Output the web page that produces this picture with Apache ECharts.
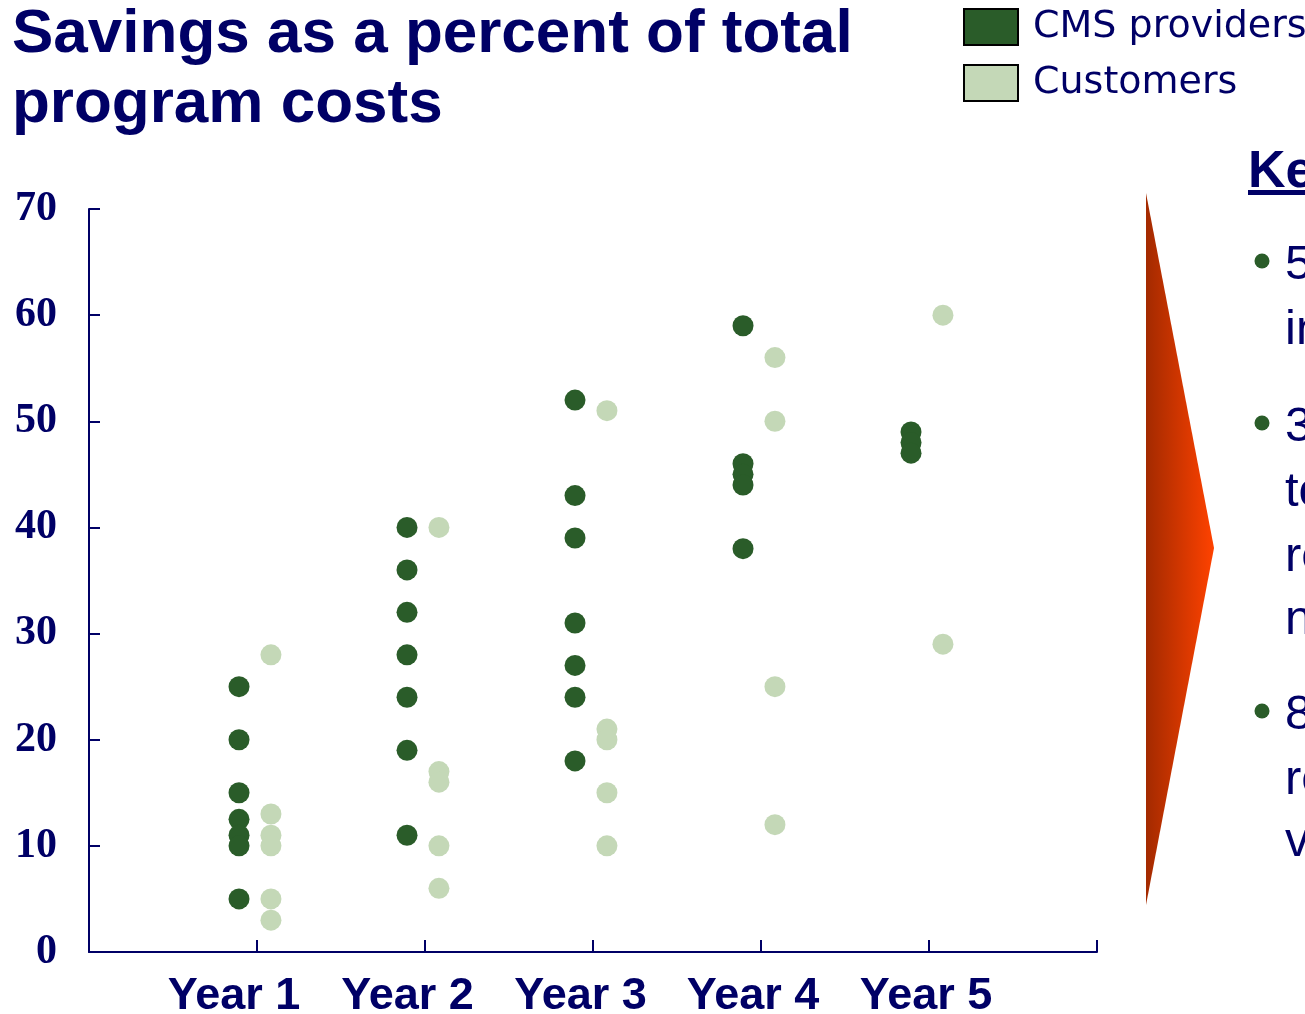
<!DOCTYPE html>
<html>
<head>
<meta charset="utf-8">
<script src="https://cdn.jsdelivr.net/npm/echarts@6/dist/echarts.min.js"></script>
<style>
html,body{margin:0;padding:0;background:#fff;}
#chart{width:1305px;height:1014px;}
</style>
</head>
<body>
<div id="chart"></div>
<script>
const years = ['Year 1', 'Year 2', 'Year 3', 'Year 4', 'Year 5'];
const cmsProviders = [
  [25, 20, 15, 12.5, 11, 10, 5],
  [40, 36, 32, 28, 24, 19, 11],
  [52, 43, 39, 31, 27, 24, 18],
  [59, 46, 45, 44, 38],
  [49, 48, 47]
];
const customers = [
  [28, 13, 11, 10, 5, 3],
  [40, 17, 16, 10, 6],
  [51, 21, 20, 15, 10],
  [56, 50, 25, 12],
  [60, 29]
];
const seriesNames = ['CMS providers', 'Customers'];
const titleText = 'Savings as a percent of total\nprogram costs';
const sideHeading = 'Ke';
const sideLines = [['5', 'in'], ['3', 'to', 're', 'n'], ['8', 're', 'v']];

const NAVY = '#000066';
const DARK = '#2A5C29';
const LIGHT = '#C4D8B7';

function buildPoints(groups, shift) {
  const out = [];
  groups.forEach((vals, i) => vals.forEach(v => out.push([i + 1 + shift, v])));
  return out;
}

const labelPad = [46, 35, 25, 16, 6];
const rich = {};
years.forEach((y, i) => {
  rich['y' + (i + 1)] = {
    fontFamily: 'Liberation Sans', fontWeight: 'bold', fontSize: 45, color: NAVY,
    padding: [0, labelPad[i], 0, 0]
  };
});

const graphics = [];
graphics.push({
  type: 'polygon',
  shape: { points: [[1146, 193], [1214, 548], [1146, 905]] },
  style: {
    fill: new echarts.graphic.LinearGradient(0, 0, 1, 0, [
      { offset: 0, color: '#A32A00' },
      { offset: 1, color: '#FF4200' }
    ])
  }
});
graphics.push({
  type: 'text', x: 1248, y: 187 - 14,
  style: { text: sideHeading, font: 'bold 52px "Liberation Sans"', fill: NAVY, verticalAlign: 'middle' }
});
graphics.push({ type: 'rect', shape: { x: 1248, y: 190, width: 60, height: 5 }, style: { fill: NAVY } });
const bulletBase = [[280, 345], [442, 507, 572, 635], [730, 795, 857]];
sideLines.forEach((lines, bi) => {
  graphics.push({
    type: 'circle', shape: { cx: 1262, cy: bulletBase[bi][0] - 19, r: 7.5 }, style: { fill: DARK }
  });
  lines.forEach((t, li) => {
    graphics.push({
      type: 'text', x: 1285, y: bulletBase[bi][li] - 15,
      style: { text: t, font: '49px "Liberation Sans"', fill: NAVY, verticalAlign: 'middle' }
    });
  });
});

const chart = echarts.init(document.getElementById('chart'), null, { renderer: 'canvas' });
chart.setOption({
  animation: false,
  backgroundColor: '#fff',
  title: {
    text: titleText,
    left: 12, top: 0, padding: 0,
    textStyle: { fontFamily: 'Liberation Sans', fontWeight: 'bold', fontSize: 62, lineHeight: 70, color: NAVY }
  },
  legend: {
    orient: 'vertical', left: 963, top: 8, itemGap: 18, padding: 0,
    itemWidth: 54, itemHeight: 36, icon: 'rect',
    itemStyle: { borderColor: '#000', borderWidth: 2 },
    textStyle: { fontFamily: 'DejaVu Sans', fontSize: 38, color: NAVY, lineHeight: 36, padding: [0, 0, 0, 10] },
    data: seriesNames
  },
  grid: { left: 89, right: 208, top: 209, bottom: 62, containLabel: false, outerBoundsMode: 'none' },
  xAxis: {
    type: 'value', min: 0, max: 6, interval: 1,
    axisLine: { lineStyle: { color: NAVY, width: 2 } },
    axisTick: { inside: true, length: 12, lineStyle: { color: NAVY, width: 2 } },
    splitLine: { show: false },
    axisLabel: {
      margin: 22,
      formatter: v => (v >= 1 && v <= 5) ? '{y' + v + '|' + years[v - 1] + '}' : '',
      rich: rich
    }
  },
  yAxis: {
    type: 'value', min: 0, max: 70, interval: 10,
    axisLine: { show: true, lineStyle: { color: NAVY, width: 2 } },
    axisTick: { show: true, inside: true, length: 11, lineStyle: { color: NAVY, width: 2 } },
    splitLine: { show: false },
    axisLabel: { margin: 32, fontFamily: 'Liberation Serif', fontWeight: 'bold', fontSize: 42, color: NAVY }
  },
  series: [
    {
      name: seriesNames[0], type: 'scatter', symbol: 'circle', symbolSize: 21,
      itemStyle: { color: DARK, opacity: 1 },
      data: buildPoints(cmsProviders, -0.107)
    },
    {
      name: seriesNames[1], type: 'scatter', symbol: 'circle', symbolSize: 21,
      itemStyle: { color: LIGHT, opacity: 1 },
      data: buildPoints(customers, 0.083)
    }
  ],
  graphic: graphics
});
</script>
</body>
</html>
